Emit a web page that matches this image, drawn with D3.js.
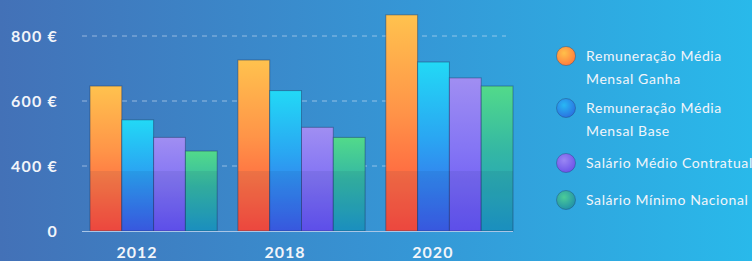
<!DOCTYPE html>
<html>
<head>
<meta charset="utf-8">
<script src="https://cdn.jsdelivr.net/npm/d3@7"></script>
<style>
  html, body { margin: 0; padding: 0; overflow: hidden; }
  #chart { width: 752px; height: 261px; }
  text { font-family: Lato, "Open Sans", sans-serif; fill: #f2f5fa; }
</style>
</head>
<body>
<div id="chart"></div>
<script>
// Data
const years = ['2012', '2018', '2020'];
const seriesNames = [
    ['Remuneração Média', 'Mensal Ganha'],
    ['Remuneração Média', 'Mensal Base'],
    ['Salário Médio Contratual'],
    ['Salário Mínimo Nacional']
];
const ganha = [646, 726, 865];
const base = [542, 632, 720];
const contratual = [488, 519, 671];
const minimo = [446, 488, 646];
const tickValues = [0, 400, 600, 800];
const gridValues = [400, 600, 800];

// gradient stops per series (top, bottom)
const palette = [
    { top: '#ffc24e', mid: '#ff9448', bottom: '#ff4a3c', dot: ['#ffc04a', '#ff7a3e'] },
    { top: '#22d9f6', mid: '#2aa6f2', bottom: '#3c5cea', dot: ['#28b8f4', '#2a6fe0'] },
    { top: '#a08ef2', mid: '#8576f4', bottom: '#6452f6', dot: ['#9a86f4', '#6a52e8'] },
    { top: '#52da8a', mid: '#34b7a4', bottom: '#1c98c8', dot: ['#4ccc98', '#1f8fa8'] }
];

const width = 752;
const height = 261;

const svg = d3.select('#chart')
    .append('svg')
    .attr('width', width)
    .attr('height', height);

const defs = svg.append('defs');

// background
const bg = defs.append('linearGradient')
    .attr('id', 'bg')
    .attr('x1', 0).attr('y1', 0).attr('x2', 1).attr('y2', 0);
bg.append('stop').attr('offset', '0%').attr('stop-color', '#4371b7');
bg.append('stop').attr('offset', '55%').attr('stop-color', '#3597d6');
bg.append('stop').attr('offset', '100%').attr('stop-color', '#29b9ea');

svg.append('rect')
    .attr('width', width)
    .attr('height', height)
    .attr('fill', 'url(#bg)');

palette.forEach((p, i) => {
    const g = defs.append('linearGradient')
        .attr('id', 'bar' + i)
        .attr('x1', 0).attr('y1', 0).attr('x2', 0).attr('y2', 1);
    g.append('stop').attr('offset', '0%').attr('stop-color', p.top);
    g.append('stop').attr('offset', '45%').attr('stop-color', p.mid);
    g.append('stop').attr('offset', '100%').attr('stop-color', p.bottom);

    const r = defs.append('radialGradient')
        .attr('id', 'dot' + i)
        .attr('cx', '40%').attr('cy', '35%').attr('r', '70%');
    r.append('stop').attr('offset', '0%').attr('stop-color', p.dot[0]);
    r.append('stop').attr('offset', '100%').attr('stop-color', p.dot[1]);
});

// scales: the picture puts 0, 400, 600, 800 at even spacing
const y = d3.scaleLinear()
    .domain([0, 400, 800])
    .range([231, 166, 36]);

const x0 = d3.scaleBand()
    .domain(years)
    .range([90, 513])
    .paddingInner(0.14);

const x1 = d3.scaleBand()
    .domain(d3.range(4))
    .range([0, x0.bandwidth()]);

const values = [ganha, base, contratual, minimo];

// grid lines
svg.append('g')
    .selectAll('line')
    .data(gridValues)
    .join('line')
    .attr('x1', 82)
    .attr('x2', 506)
    .attr('y1', d => y(d))
    .attr('y2', d => y(d))
    .attr('stroke', '#dfe9f5')
    .attr('stroke-opacity', 0.55)
    .attr('stroke-width', 1.2)
    .attr('stroke-dasharray', '5,5');

// y axis labels
const yAxis = svg.append('g')
    .attr('transform', 'translate(58,0)')
    .call(d3.axisLeft(y)
        .tickValues(tickValues)
        .tickSize(0)
        .tickPadding(0)
        .tickFormat(d => d === 0 ? '0' : d + ' €'));
yAxis.select('.domain').remove();
yAxis.selectAll('text')
    .attr('fill', '#f2f5fa')
    .style('font-size', '16px')
    .style('font-weight', 'bold')
    .style('letter-spacing', '1.2px');

// bars
const groups = svg.append('g')
    .selectAll('g')
    .data(years)
    .join('g')
    .attr('transform', d => `translate(${x0(d)},0)`);

groups.selectAll('rect.bar')
    .data((d, gi) => values.map((v, si) => ({ si, value: v[gi] })))
    .join('rect')
    .attr('class', 'bar')
    .attr('x', d => x1(d.si))
    .attr('y', d => y(d.value))
    .attr('width', x1.bandwidth())
    .attr('height', d => y(0) - y(d.value))
    .attr('fill', d => `url(#bar${d.si})`)
    .attr('stroke', '#1d3560')
    .attr('stroke-opacity', 0.45)
    .attr('stroke-width', 1);

// darker lower band over the bars
groups.selectAll('rect.shade')
    .data((d, gi) => values.map((v, si) => ({ si, value: v[gi] })))
    .join('rect')
    .attr('class', 'shade')
    .attr('x', d => x1(d.si))
    .attr('y', y(0) - 60)
    .attr('width', x1.bandwidth())
    .attr('height', 60)
    .attr('fill', '#10205a')
    .attr('fill-opacity', 0.08);

// baseline
svg.append('line')
    .attr('x1', 82)
    .attr('x2', 513)
    .attr('y1', y(0) + 0.5)
    .attr('y2', y(0) + 0.5)
    .attr('stroke', '#a9c6e6')
    .attr('stroke-width', 1.2);

// year labels (sit a little left of the group centre in the picture)
svg.append('g')
    .selectAll('text')
    .data(years)
    .join('text')
    .attr('x', d => x0(d) + x0.bandwidth() * 0.37)
    .attr('y', 258)
    .attr('text-anchor', 'middle')
    .style('font-size', '16px')
    .style('font-weight', 'bold')
    .style('letter-spacing', '1px')
    .text(d => d);

// legend
const legendY = [56, 108, 163, 200];
const legend = svg.append('g')
    .selectAll('g')
    .data(seriesNames)
    .join('g')
    .attr('transform', (d, i) => `translate(566,${legendY[i]})`);

legend.append('circle')
    .attr('r', 9.5)
    .attr('fill', (d, i) => `url(#dot${i})`)
    .attr('stroke', '#1d3560')
    .attr('stroke-opacity', 0.35)
    .attr('stroke-width', 1);

legend.append('text')
    .attr('x', 20)
    .attr('y', 5)
    .style('font-size', '14px')
    .style('letter-spacing', '0.6px')
    .selectAll('tspan')
    .data(d => d)
    .join('tspan')
    .attr('x', 20)
    .attr('dy', (d, i) => i === 0 ? 0 : 23)
    .text(d => d);
</script>
</body>
</html>
